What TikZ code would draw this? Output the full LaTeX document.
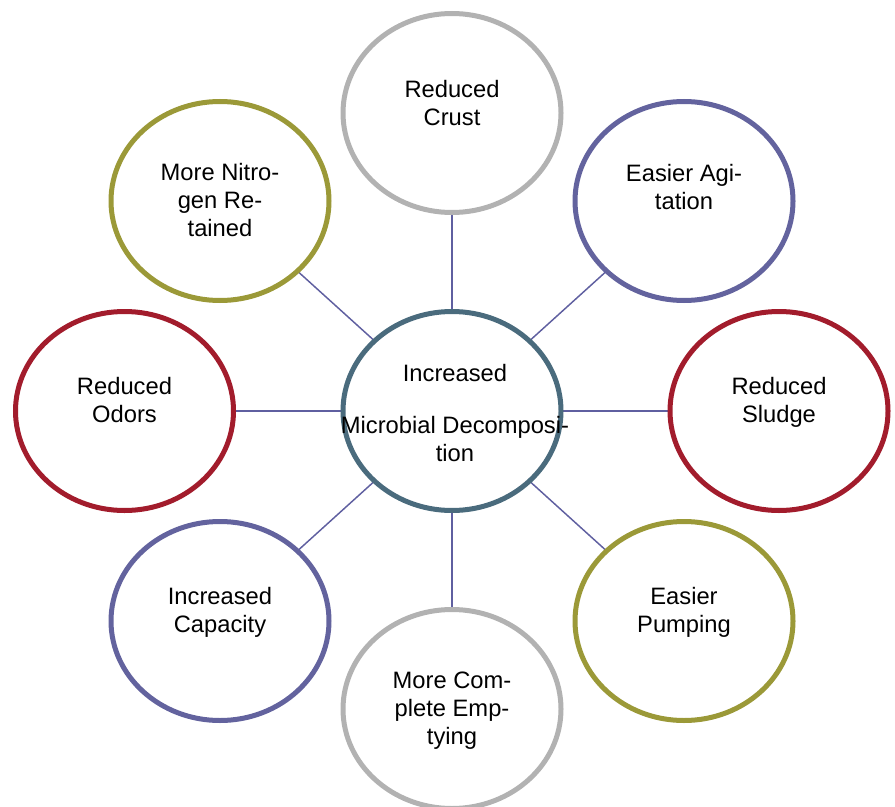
\documentclass[tikz,border=0pt]{standalone}
\usepackage{fontspec}
\setmainfont{Liberation Sans}
\usetikzlibrary{shapes.geometric,backgrounds}

\definecolor{ringgray}{HTML}{B2B2B2}
\definecolor{ringblue}{HTML}{63639E}
\definecolor{ringred}{HTML}{A21C2C}
\definecolor{ringolive}{HTML}{9B9938}
\definecolor{ringcore}{HTML}{4A6B7D}
\definecolor{spoke}{HTML}{5F5FA0}

\tikzset{
  ring/.style={ellipse, draw=#1, line width=3.75pt, fill=white, inner sep=0pt,
    minimum width=163.5pt, minimum height=149.25pt},
  % anchored at the baseline of the last line
  lbl/.style={anchor=base, align=center, inner sep=0pt,
    font=\fontsize{17.8pt}{21pt}\selectfont},
  spokeline/.style={draw=spoke, line width=1.1pt}
}

\begin{document}
\begin{tikzpicture}[x=0.75pt, y=-0.75pt]
  \useasboundingbox (0,0) rectangle (895,806);
  \clip (0,0) rectangle (895,806);

  % hub and the eight surrounding benefits
  \node[ring=ringcore]  (hub)   at (452,411)   {};
  \node[ring=ringgray]  (crust) at (452,113)   {};
  \node[ring=ringblue]  (agit)  at (684,201)   {};
  \node[ring=ringred]   (sludge) at (779,411)  {};
  \node[ring=ringolive] (pump)  at (684,621)   {};
  \node[ring=ringgray]  (empty) at (452,709)   {};
  \node[ring=ringblue]  (capac) at (220,621)   {};
  \node[ring=ringred]   (odors) at (124.5,411) {};
  \node[ring=ringolive] (nitro) at (220,201)   {};

  % spokes from the hub
  \begin{scope}[on background layer]
    \foreach \n in {crust,agit,sludge,pump,empty,capac,odors,nitro}
      \draw[spokeline] (hub.center) -- (\n.center);
  \end{scope}

  % texts
  \node[lbl] (thub) at (455,461.5) {Increased\\[18pt]Microbial Decomposi-\\tion};
  \node[lbl] (tcrust) at (452,125.5)  {Reduced\\Crust};
  \node[lbl] (tagit)  at (684,209.5) {Easier Agi-\\tation};
  \node[lbl] (tsludge) at (779,422.5) {Reduced\\Sludge};
  \node[lbl] (tpump)  at (684,632.5) {Easier\\Pumping};
  \node[lbl] (tempty) at (452,744.5) {More Com-\\plete Emp-\\tying};
  \node[lbl] (tcapac) at (220,632.5) {Increased\\Capacity};
  \node[lbl] (todors) at (124.5,422.5) {Reduced\\Odors};
  \node[lbl] (tnitro) at (220,236.5) {More Nitro-\\gen Re-\\tained};
\end{tikzpicture}
\end{document}
